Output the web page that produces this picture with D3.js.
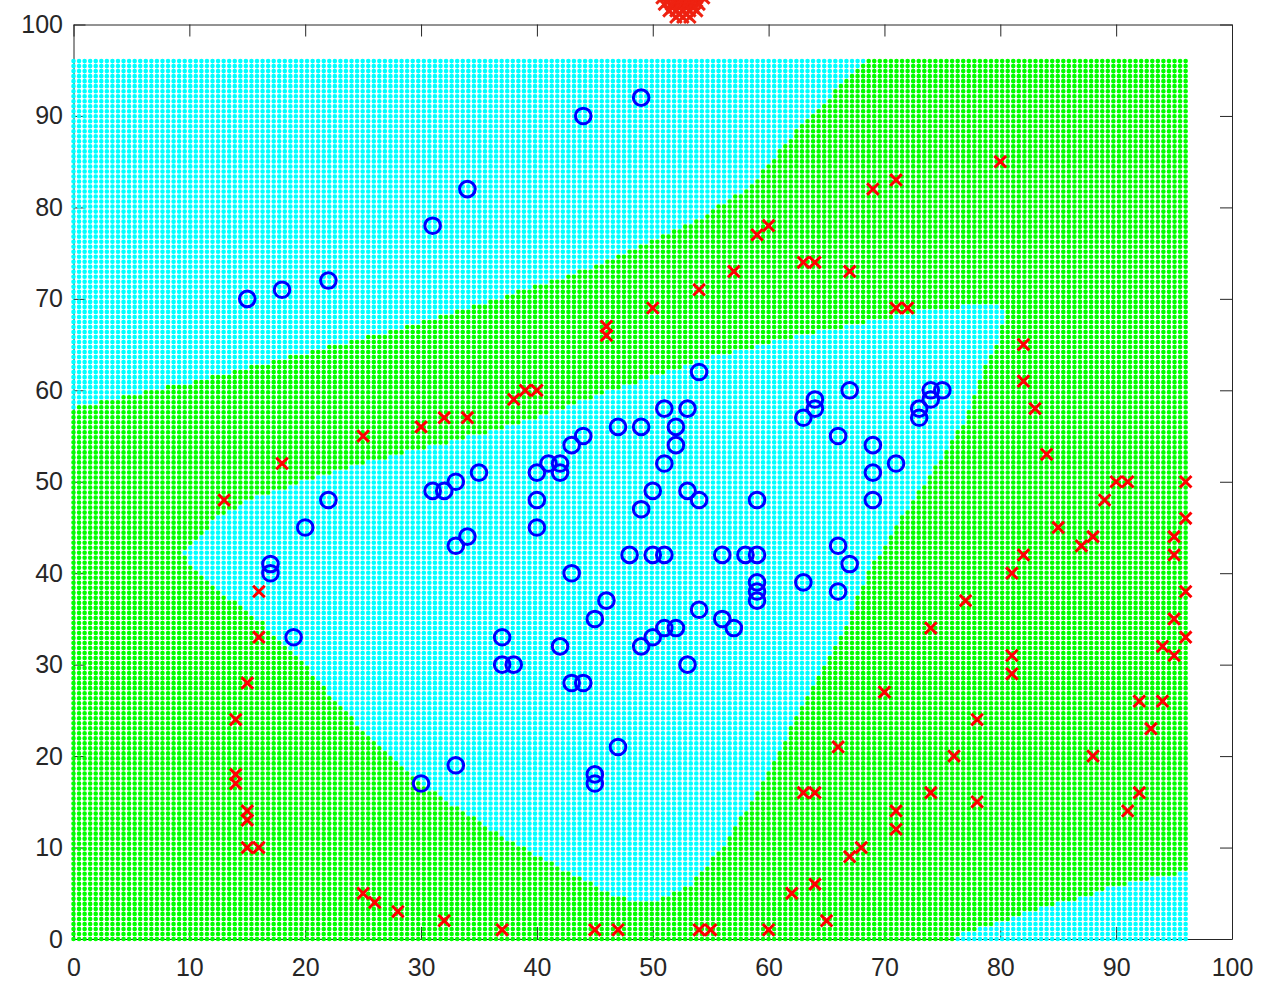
<!DOCTYPE html>
<html>
<head>
<meta charset="utf-8">
<script src="https://cdn.jsdelivr.net/npm/d3@7"></script>
<style>
  html, body { margin: 0; padding: 0; background: #ffffff; }
  svg { display: block; }
  text { font-family: "Liberation Sans", Arial, Helvetica, sans-serif; }
</style>
</head>
<body>
<svg id="chart" width="1271" height="993"></svg>
<script>
// Positive examples (blue circles)
const posX = [49,44,34,31,15,18,22,54,67,74,75,74,73,73,64,64,63,51,53,52,47,49,66,44,43,52,69,42,41,51,71,40,42,35,69,33,31,32,50,53,22,40,54,59,69,49,20,40,34,33,66,17,17,48,50,51,56,58,59,67,43,59,63,59,66,59,46,54,45,56,57,51,52,50,37,19,49,42,37,38,53,43,44,47,33,45,45,30];
const posY = [92,90,82,78,70,71,72,62,60,60,60,59,58,57,59,58,57,58,58,56,56,56,55,55,54,54,54,52,52,52,52,51,51,51,51,50,49,49,49,49,48,48,48,48,48,47,45,45,44,43,43,41,40,42,42,42,42,42,42,41,40,39,39,38,38,37,37,36,35,35,34,34,34,33,33,33,32,32,30,30,30,28,28,21,19,18,17,17];

// Negative examples (red crosses)
const negX = [80,69,71,59,60,63,64,57,67,54,71,72,50,46,46,82,82,83,84,38,39,40,32,34,30,25,18,13,16,16,15,14,14,14,15,15,15,16,25,26,28,32,37,45,47,54,55,60,62,64,65,67,68,71,71,63,64,66,74,78,76,78,70,74,77,81,81,81,82,85,87,88,89,90,91,96,96,95,95,96,95,94,95,96,92,94,93,88,92,91];
const negY = [85,82,83,77,78,74,74,73,73,71,69,69,69,67,66,65,61,58,53,59,60,60,57,57,56,55,52,48,38,33,28,24,18,17,14,13,10,10,5,4,3,2,1,1,1,1,1,1,5,6,2,9,10,12,14,16,16,21,16,15,20,24,27,34,37,29,31,40,42,45,43,44,48,50,50,50,46,44,42,38,35,32,31,33,26,26,23,20,16,14];

// Negative examples lying just above the plotted range (a dense cluster)
const strayX = [52.0,52.6,53.2, 52.3,52.9, 51.4,52.0,52.6,53.2,53.8, 51.7,52.3,52.9,53.5, 51.0,51.6,52.2,52.8,53.4,54.0, 51.3,51.9,52.5,53.1,53.7, 50.8,51.4,52.0,52.6,53.2,53.8,54.4, 51.1,51.7,52.3,52.9,53.5,54.1, 51.0,51.6,52.2,52.8,53.4,54.2];
const strayY = [100.8,100.8,100.8, 101.15,101.15, 101.5,101.5,101.5,101.5,101.5, 101.85,101.85,101.85,101.85, 102.2,102.2,102.2,102.2,102.2,102.2, 102.55,102.55,102.55,102.55,102.55, 102.9,102.9,102.9,102.9,102.9,102.9,102.9, 103.25,103.25,103.25,103.25,103.25,103.25, 103.6,103.6,103.6,103.6,103.6,103.6];

// Tick values
const xTicks = [0,10,20,30,40,50,60,70,80,90,100];
const yTicks = [0,10,20,30,40,50,60,70,80,90,100];

// Outlines of the areas predicted positive (drawn cyan); the rest is green
const upperRegion = [[-1,58.1],[0,58.1],[10.9,61.1],[19.5,63.9],[28.2,66.8],[36.8,70.1],[45.4,73.7],[54.1,78.8],[58.4,82.4],[62.7,88.8],[68.7,96.5],[-1,96.5]];
const centralRegion = [[9.45,42.3],[12.4,46.1],[15.2,48.0],[19.5,49.9],[23.9,51.6],[28.8,53.3],[36.8,55.7],[45.4,59.5],[54.1,63.3],[62.7,66.0],[71.3,68.2],[74.3,69.0],[79.9,69.3],[80.4,68.6],[79.9,65.8],[79.1,63.6],[78.2,61.1],[77.1,57.1],[74.8,52.4],[71.3,45.8],[68.7,40.3],[66.1,32.7],[62.7,25.0],[59.2,16.3],[55.8,9.7],[53.2,5.9],[50.6,4.3],[48.0,4.3],[46.3,5.0],[42.0,7.8],[36.8,11.4],[30.8,16.3],[26.4,21.2],[22.1,26.5],[21.0,28.6],[18.7,31.6],[16.3,34.6],[14.1,36.7],[12.4,38.2],[10.3,40.7]];
const cornerRegion = [[76.1,-1],[76.1,0],[77.1,0.8],[80.5,2.1],[83.7,3.5],[87.1,4.6],[89.7,5.7],[92.3,6.5],[95.7,7.2],[96.2,7.5],[97,7.6],[97,-1]];

// Evaluation mesh
const meshCols = 201, meshRows = 176, meshMax = 96;

const svg = d3.select("#chart");
const plot = { left: 73.5, right: 1232, top: 24.5, bottom: 939 };

const x = d3.scaleLinear().domain([0, 100]).range([plot.left, plot.right]);
const y = d3.scaleLinear().domain([0, 100]).range([plot.bottom, plot.top]);

const axisColor = "#262626";
const tickLen = 12;

function styleAxis(g) {
  g.selectAll("path.domain").attr("stroke", axisColor).attr("stroke-width", 1);
  g.selectAll(".tick line").attr("stroke", axisColor).attr("stroke-width", 1);
  g.selectAll(".tick text").attr("fill", axisColor).attr("font-size", 25)
    .attr("font-family", "\"Liberation Sans\", Arial, Helvetica, sans-serif");
}

// Box axes (drawn beneath the mesh)
svg.append("g").attr("transform", `translate(0,${plot.bottom})`)
  .call(d3.axisBottom(x).tickValues(xTicks).tickSizeInner(-tickLen).tickSizeOuter(0).tickPadding(19).tickFormat(d3.format("d")))
  .call(styleAxis);
svg.append("g").attr("transform", `translate(${plot.left},0)`)
  .call(d3.axisLeft(y).tickValues(yTicks).tickSizeInner(-tickLen).tickSizeOuter(0).tickPadding(10.5).tickFormat(d3.format("d")))
  .call(styleAxis);
svg.append("g").attr("transform", `translate(0,${plot.top})`)
  .call(d3.axisTop(x).tickValues(xTicks).tickSizeInner(-tickLen).tickSizeOuter(0).tickFormat(""))
  .call(styleAxis);
svg.append("g").attr("transform", `translate(${plot.right},0)`)
  .call(d3.axisRight(y).tickValues(yTicks).tickSizeInner(-tickLen).tickSizeOuter(0).tickFormat(""))
  .call(styleAxis);

// Classify each mesh point and draw it as a small dot
const regions = [upperRegion, centralRegion, cornerRegion];
const dotR = 2.3;
const cyanPath = d3.path(), greenPath = d3.path();
for (let j = 0; j < meshRows; j++) {
  const gy = j * meshMax / (meshRows - 1);
  for (let i = 0; i < meshCols; i++) {
    const gx = i * meshMax / (meshCols - 1);
    const inside = regions.some(r => d3.polygonContains(r, [gx, gy]));
    const p = inside ? cyanPath : greenPath;
    const cx = x(gx), cy = y(gy);
    p.moveTo(cx + dotR, cy);
    p.arc(cx, cy, dotR, 0, 2 * Math.PI);
  }
}
svg.append("path").attr("d", greenPath.toString()).attr("fill", "#00ff00");
svg.append("path").attr("d", cyanPath.toString()).attr("fill", "#00ffff");

// Blue circles
svg.append("g").selectAll("circle")
  .data(d3.zip(posX, posY))
  .join("circle")
  .attr("cx", d => x(d[0]))
  .attr("cy", d => y(d[1]))
  .attr("r", 7.8)
  .attr("fill", "none")
  .attr("stroke", "#0000ff")
  .attr("stroke-width", 3);

// Red crosses
const crossHalf = 5.8;
function crossPath(d) {
  const cx = x(d[0]), cy = y(d[1]);
  return `M${cx - crossHalf},${cy - crossHalf}L${cx + crossHalf},${cy + crossHalf}M${cx - crossHalf},${cy + crossHalf}L${cx + crossHalf},${cy - crossHalf}`;
}
svg.append("g").selectAll("path")
  .data(d3.zip(negX, negY))
  .join("path")
  .attr("d", crossPath)
  .attr("fill", "none")
  .attr("stroke", "#ff0000")
  .attr("stroke-width", 3);

// Cluster above the axes box
svg.append("g").selectAll("path")
  .data(d3.zip(strayX, strayY))
  .join("path")
  .attr("d", crossPath)
  .attr("fill", "none")
  .attr("stroke", "#ee2211")
  .attr("stroke-width", 3);
</script>
</body>
</html>
